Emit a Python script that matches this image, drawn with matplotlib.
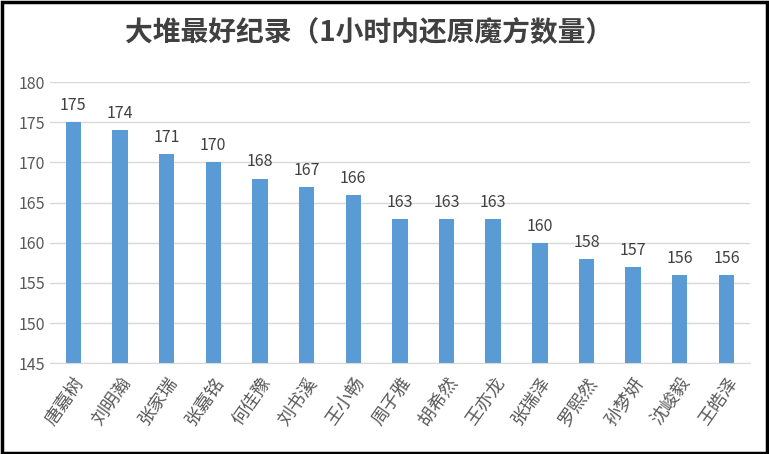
from matplotlib import pyplot as plt
import numpy as np

plt.rcParams['font.family'] = ['Noto Sans CJK SC', 'DejaVu Sans']

names = ['唐嘉树', '刘明瀚', '张家瑞', '张嘉铭', '何佳豫', '刘书溪', '王小畅', '周子雅',
         '胡希然', '王亦龙', '张瑞泽', '罗熙然', '孙梦妍', '沈峻毅', '王皓泽']
scores = [175, 174, 171, 170, 168, 167, 166, 163, 163, 163, 160, 158, 157, 156, 156]

fig = plt.figure(figsize=(7.69, 4.54), dpi=100)
fig.patches.append(plt.Rectangle((0.002, 0.003), 0.995, 0.993, transform=fig.transFigure,
                                 fill=False, edgecolor='black', linewidth=2.5))
ax = fig.add_axes([0.065, 0.2, 0.91, 0.619])

x = np.arange(len(names))
bars = ax.bar(x, [s - 145 for s in scores], 0.33, bottom=145, color='#5b9bd5', zorder=2)
for xi, s in zip(x, scores):
    ax.text(xi, s + 1.0, str(s), ha='center', va='bottom', fontsize=11.5, color='#404040')

ax.set_ylim(145, 180)
ax.set_xlim(-0.5, len(names) - 0.5)
ax.set_yticks(range(145, 181, 5))
ax.yaxis.grid(True, color='#d9d9d9', linewidth=1, zorder=0)
ax.set_xticks(x)
ax.set_xticklabels(names, rotation=55, ha='right', rotation_mode='anchor',
                   fontsize=13, color='#595959')
for tick in ax.yaxis.get_ticklabels():
    tick.set_fontsize(11.5)
    tick.set_color('#595959')
ax.tick_params(length=0)
ax.tick_params(axis='x', pad=8)
for sp in ['top', 'right', 'left']:
    ax.spines[sp].set_visible(False)
ax.spines['bottom'].set_color('#d9d9d9')

fig.text(0.48, 0.925, '大堆最好纪录（1小时内还原魔方数量）', ha='center', va='center',
         fontsize=20, fontweight='bold', color='#404040')

plt.savefig('out.png', dpi=100)
